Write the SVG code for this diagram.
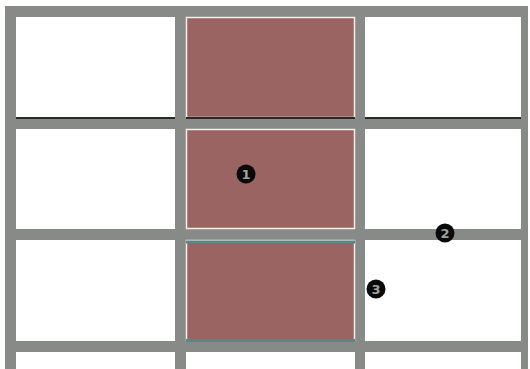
<svg xmlns="http://www.w3.org/2000/svg" width="530" height="369" viewBox="0 0 530 369">
<style>
.cell{fill:#ffffff}
.pink{fill:#9a6462;stroke:#f4f0ea;stroke-width:1.5}
.blk{stroke:#2a2a2a;stroke-width:2}
.teal{stroke:#5a8685;stroke-width:3}
.mk{fill:#0a0a0a}
.mt{font-family:"DejaVu Sans",sans-serif;font-size:13px;font-weight:bold;fill:#a0a0a0;text-anchor:middle}
</style>
<rect x="0" y="0" width="530" height="369" fill="#ffffff"/>
<rect id="frame" x="5" y="6" width="523" height="363" fill="#878a87"/>
<g id="row1">
<rect class="cell" x="16" y="17" width="159" height="101"/>
<rect class="pink" x="186.5" y="17.5" width="168" height="100"/>
<rect class="cell" x="365" y="17" width="156" height="101"/>
<line class="blk" x1="16" y1="118" x2="175" y2="118"/>
<line class="blk" x1="186" y1="118" x2="355" y2="118"/>
<line class="blk" x1="365" y1="118" x2="521" y2="118"/>
</g>
<g id="row2">
<rect class="cell" x="16" y="129" width="159" height="100"/>
<rect class="pink" x="186.5" y="129.5" width="168" height="99"/>
<rect class="cell" x="365" y="129" width="156" height="100"/>
</g>
<g id="row3">
<rect class="cell" x="16" y="240" width="159" height="101"/>
<rect class="pink" x="186.5" y="240.5" width="168" height="100"/>
<line class="teal" x1="186" y1="242" x2="355" y2="242"/>
<line class="teal" x1="186" y1="340.5" x2="355" y2="340.5"/>
<rect class="cell" x="365" y="240" width="156" height="101"/>
</g>
<g id="row4">
<rect class="cell" x="16" y="352" width="159" height="17"/>
<rect class="cell" x="186" y="352" width="169" height="17"/>
<rect class="cell" x="365" y="352" width="156" height="17"/>
</g>
<g id="connectors"></g>
<g id="marker1">
<circle class="mk" cx="246" cy="174" r="9.5"/>
<text class="mt" x="246" y="178.5">1</text>
</g>
<g id="marker2">
<circle class="mk" cx="445" cy="233" r="9.5"/>
<text class="mt" x="445" y="237.5">2</text>
</g>
<g id="marker3">
<circle class="mk" cx="376" cy="289" r="9.5"/>
<text class="mt" x="376" y="293.5">3</text>
</g>
</svg>
